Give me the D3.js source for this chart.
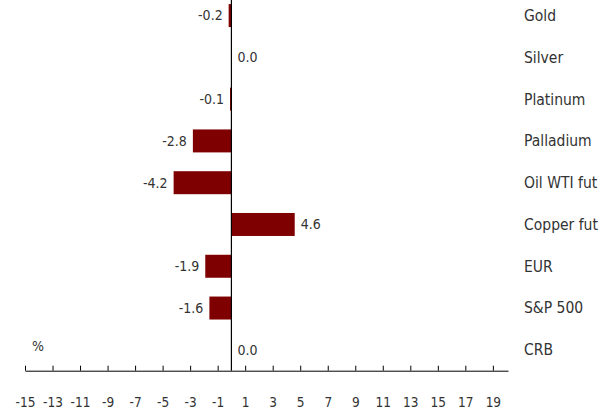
<!DOCTYPE html>
<html>
<head>
<meta charset="utf-8">
<script src="https://cdn.jsdelivr.net/npm/d3@7"></script>
<style>
  body { margin: 0; background: #fff; }
  text { font-family: "DejaVu Sans Condensed", "DejaVu Sans", sans-serif; fill: #333; }
</style>
</head>
<body>
<div id="chart"></div>
<script>
const width = 610;
const height = 413;

// data
const categories = ["Gold", "Silver", "Platinum", "Palladium", "Oil WTI fut", "Copper fut", "EUR", "S&P 500", "CRB"];
const values = [-0.2, 0.0, -0.1, -2.8, -4.2, 4.6, -1.9, -1.6, 0.0];
const tickValues = d3.range(-15, 20, 2);

const svg = d3.select("#chart").append("svg")
  .attr("width", width)
  .attr("height", height);

const x = d3.scaleLinear()
  .domain([-15, 20.1])
  .range([25, 508]);

const y = d3.scaleBand()
  .domain(categories)
  .range([-5.3, 370.7])
  .paddingInner(0.45)
  .paddingOuter(0.225);

const data = categories.map((c, i) => ({ name: c, value: values[i] }));

// bars
svg.append("g")
  .selectAll("rect")
  .data(data)
  .enter().append("rect")
  .attr("x", d => x(Math.min(0, d.value)))
  .attr("y", d => y(d.name))
  .attr("width", d => Math.abs(x(d.value) - x(0)))
  .attr("height", y.bandwidth())
  .attr("fill", "#7f0000");

// value labels
svg.append("g")
  .selectAll("text")
  .data(data)
  .enter().append("text")
  .attr("x", d => d.value < 0 ? x(d.value) - 6 : x(d.value) + 6)
  .attr("y", d => y(d.name) + y.bandwidth() / 2)
  .attr("dy", "0.35em")
  .attr("text-anchor", d => d.value < 0 ? "end" : "start")
  .style("font-size", "14px")
  .text(d => d.value.toFixed(1));

// category labels on the right
svg.append("g")
  .selectAll("text")
  .data(categories)
  .enter().append("text")
  .attr("x", 524)
  .attr("y", d => y(d) + y.bandwidth() / 2)
  .attr("dy", "0.35em")
  .style("font-size", "15.5px")
  .text(d => d);

// x axis
const xAxis = d3.axisTop(x)
  .tickValues(tickValues)
  .tickSize(5)
  .tickSizeOuter(0)
  .tickFormat(d => String(d));

const axisG = svg.append("g")
  .attr("transform", `translate(0,${y.range()[1]})`)
  .call(xAxis);

axisG.select(".domain").attr("stroke", "#000");
axisG.selectAll(".tick line").attr("stroke", "#000");
axisG.selectAll(".tick text")
  .attr("y", 36)
  .attr("dy", 0)
  .style("font-family", "'DejaVu Sans Condensed', 'DejaVu Sans', sans-serif")
  .style("font-size", "13.5px")
  .style("fill", "#333");

// zero line
svg.append("line")
  .attr("x1", x(0))
  .attr("x2", x(0))
  .attr("y1", 0)
  .attr("y2", y.range()[1])
  .attr("stroke", "#000")
  .attr("stroke-width", 1.2);

// unit label
svg.append("text")
  .attr("x", 32)
  .attr("y", 351)
  .style("font-size", "14px")
  .text("%");
</script>
</body>
</html>
